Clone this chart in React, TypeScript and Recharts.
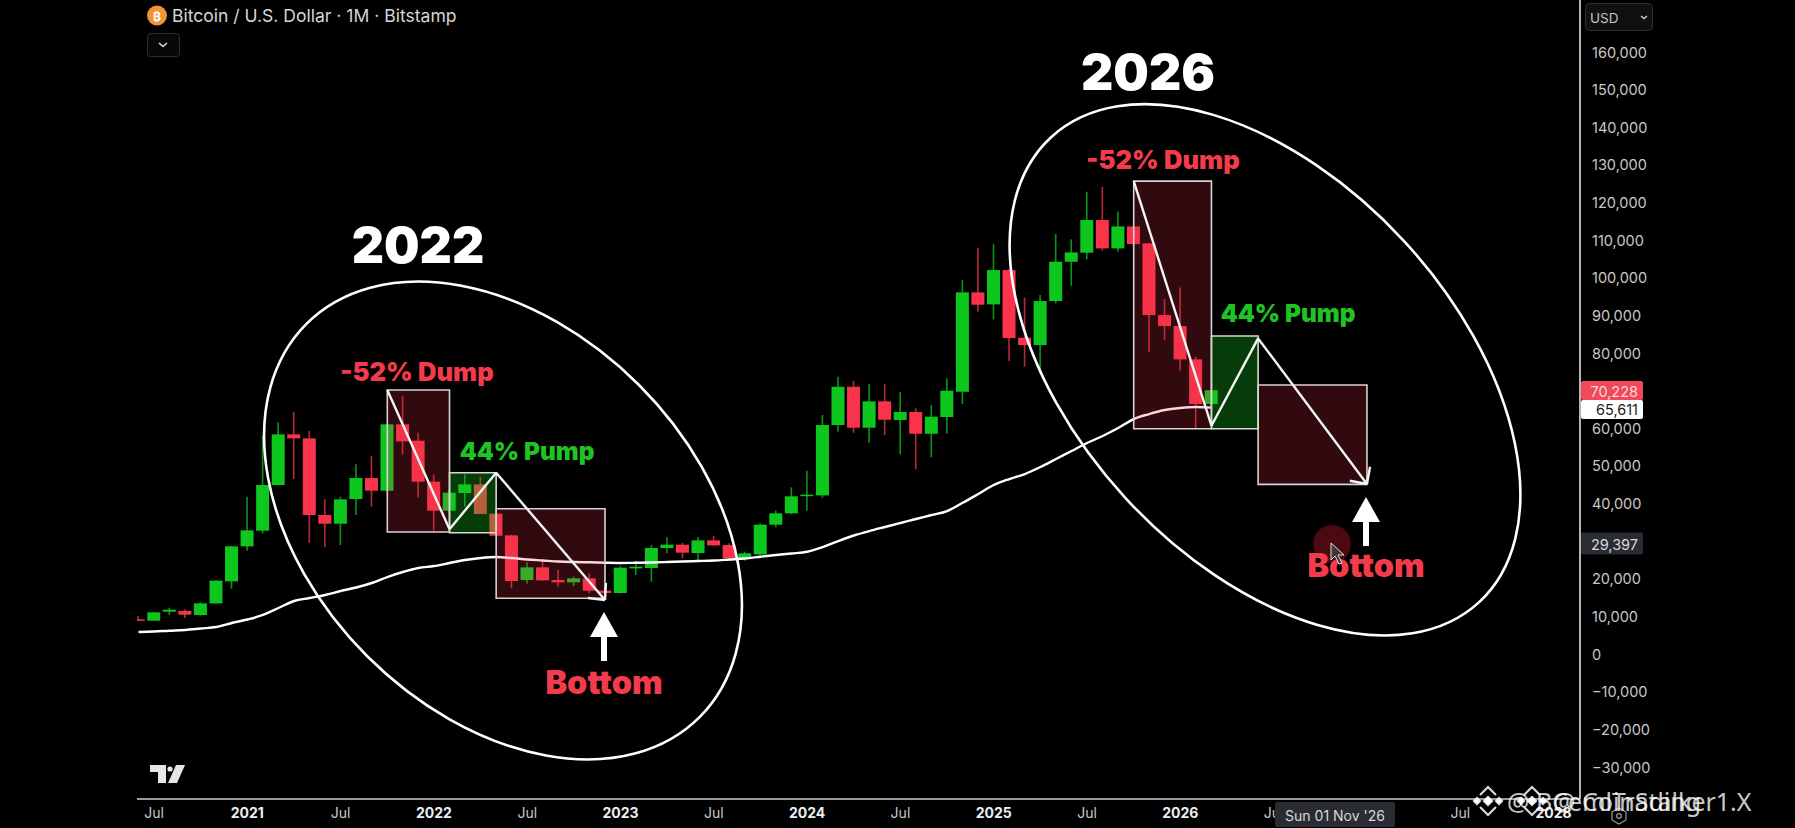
import React from "react";
import {
  ComposedChart,
  Bar,
  Line,
  XAxis,
  YAxis,
  ReferenceArea,
  ReferenceLine,
} from "recharts";

// monthly candles, index 0 = Jun 2020
const opens = [
  9340, 8990, 11380, 11560, 10490, 13590, 19440, 28740, 32900, 45040, 58500, 57440, 37070, 34760, 41320, 46900,
  43530, 61160, 56820, 45920, 38220, 42910, 45210, 37420, 31660, 19790, 23160, 19790, 19180, 20240, 16960, 16340,
  22890, 22980, 28300, 29180, 26970, 30330, 29090, 25550, 26610, 34500, 37510, 42200, 42290, 60980, 71160, 60270,
  67270, 62310, 64430, 58670, 63100, 69830, 96230, 93040, 102160, 84180, 82230, 93920, 104380, 106770, 115450,
  107920, 113760, 109250, 90200, 87280, 78420, 66560,
];
const highs = [
  10230, 11300, 12440, 12000, 13860, 19790, 28920, 41940, 58150, 61690, 64520, 59390, 41230, 41940, 50530, 52740,
  61300, 68770, 58940, 47870, 43900, 47870, 47250, 37600, 31800, 24490, 24930, 22450, 20680, 21570, 17600, 23600,
  24930, 29090, 31130, 29710, 31310, 31570, 29540, 27320, 34850, 38220, 44420, 48850, 63640, 73820, 72760, 71870,
  71870, 69750, 65410, 66290, 73380, 99500, 108100, 109070, 102500, 94900, 95520, 111730, 110310, 122980, 124300,
  117750, 114000, 109400, 94460, 97560, 79130, 70300,
];
const lows = [
  8990, 8990, 10490, 9700, 10320, 13330, 17490, 27590, 32190, 44950, 46630, 29720, 28480, 29090, 37070, 39280,
  43300, 53190, 41760, 32900, 37500, 39280, 37330, 31570, 17580, 18900, 19530, 18020, 18200, 16250, 16000, 16250,
  21120, 19350, 26880, 25550, 24930, 28830, 25290, 24930, 26440, 33790, 37330, 38220, 41670, 59210, 58940, 56280,
  58320, 53180, 49200, 52390, 58760, 66560, 91090, 89050, 77980, 76480, 74700, 93300, 98000, 105000, 107300,
  107030, 108900, 80460, 83560, 75410, 60090, 66400,
];
const closes = [
  8990, 11200, 11910, 10580, 13590, 19620, 28740, 32990, 45040, 58500, 57440, 37070, 34760, 41230, 46900, 43530,
  61160, 56640, 45920, 38220, 43000, 45210, 37330, 31570, 19530, 23160, 19710, 19180, 20240, 16960, 16340, 23070,
  23340, 28300, 29180, 27060, 30330, 29000, 25550, 26880, 34500, 37510, 42030, 42470, 60980, 71160, 60270, 67270,
  62390, 64430, 58670, 63190, 70100, 96230, 92950, 102160, 84090, 82230, 93920, 104380, 106860, 115450, 107920,
  113760, 109070, 90200, 87280, 78420, 66560, 70228,
];
const maValues = [
  5980, 6110, 6320, 6510, 6910, 7310, 8370, 9300, 10500, 12360, 14220, 15010, 15810, 16870, 17800, 19000, 20590,
  21920, 22980, 23510, 24310, 25110, 25640, 25910, 25640, 25240, 24980, 24710, 24580, 24500, 24390, 24310, 24370,
  24440, 24580, 24710, 24840, 24980, 25240, 25510, 25990, 26440, 26840, 27310, 28560, 30160, 31620, 32810, 33880,
  34940, 36000, 37070, 38130, 40310, 42650, 45040, 46630, 47960, 49820, 51950, 54070, 56200, 58060, 60180, 62570,
  63900, 64970, 65500, 65760, 65611,
];

const priceTicks = [
  -30000, -20000, -10000, 0, 10000, 20000, 30000, 40000, 50000, 60000, 70000, 80000, 90000, 100000, 110000, 120000,
  130000, 140000, 150000, 160000,
];
const timeTicks = [1, 7, 13, 19, 25, 31, 37, 43, 49, 55, 61, 67, 73, 79, 85, 91];
const timeLabels = ["Jul", "2021", "Jul", "2022", "Jul", "2023", "Jul", "2024", "Jul", "2025", "Jul", "2026", "Jul", "2027", "Jul", "2028"];

// drawn boxes on the chart: month from/to, price top/bottom
const dumpBoxes = [
  [16, 20, 70280, 32550],
  [23, 30, 38740, 14930],
  [64, 69, 125800, 60000],
  [72, 79, 71600, 45220],
];
const pumpBoxes = [
  [20, 23, 48300, 32360],
  [69, 72, 84620, 60000],
];
const zigzagLeft = [[16, 70280], [20, 33300], [23, 48300], [30, 14500]];
const zigzagRight = [[64, 125800], [69, 60800], [72, 84000], [79, 45300]];
const arrowHeads = [
  [[28.9, 15000], [30, 14500]],
  [[30.06, 19000], [30, 14500]],
  [[77.9, 46180], [79, 45300]],
  [[79.2, 49900], [79, 45300]],
];

const GREEN = "#0dc71f";
const RED = "#f9344a";

const candles = opens.map((open, i) => ({
  i,
  open,
  high: highs[i],
  low: lows[i],
  close: closes[i],
  ma: maValues[i],
  range: [lows[i], highs[i]],
}));

function Candle(props: any) {
  const { x, y, width, height, payload } = props;
  const { open, close, high, low } = payload;
  const perUnit = height / (high - low);
  const top = y + (high - Math.max(open, close)) * perUnit;
  const bodyH = Math.max(Math.abs(open - close) * perUnit, 1.5);
  const color = close >= open ? GREEN : RED;
  const mid = x + width / 2;
  return (
    <g>
      <line x1={mid} x2={mid} y1={y} y2={y + height} stroke={color} strokeWidth={1.6} strokeOpacity={0.75} />
      <rect x={x} y={top} width={width} height={bodyH} fill={color} />
    </g>
  );
}

const axisFont = "Inter, sans-serif";

function TimeTick(props: any) {
  const { x, y, payload } = props;
  const label = timeLabels[timeTicks.indexOf(payload.value)];
  const isYear = label !== "Jul";
  return (
    <text x={x} y={y} textAnchor="middle" dominantBaseline="central" fontFamily={axisFont} fontSize={14} fontWeight={isYear ? 700 : 400} fill={isYear ? "#eeeeee" : "#c9c9c9"}>
      {label}
    </text>
  );
}

function segments(points: number[][]) {
  return points.slice(1).map((p, n) => [points[n], p]);
}

function Callout({ x, y, text, color, size = 25.6 }: { x: number; y: number; text: string; color: string; size?: number }) {
  return (
    <text x={x} y={y} textAnchor="middle" dominantBaseline="central" fontFamily={axisFont} fontWeight={900} fontSize={size} fill={color}>
      {text}
    </text>
  );
}

function UpArrow({ x, tip }: { x: number; tip: number }) {
  const d = `M${x} ${tip}L${x + 14} ${tip + 25}H${x + 3}V${tip + 49}H${x - 3}V${tip + 25}H${x - 14}Z`;
  return <path d={d} fill="#ffffff" />;
}

function BinanceMark({ x, y }: { x: number; y: number }) {
  return (
    <g transform={`translate(${x} ${y})`} fill="none" stroke="#fff" strokeOpacity={0.85} strokeWidth={2.2}>
      <path d="M-8 -6L0 -14L8 -6" />
      <path d="M-8 6L0 14L8 6" />
      <path d="M-4 0L0 -4L4 0L0 4Z" fill="#fff" />
      <path d="M-14 0L-11 -3L-8 0L-11 3Z" fill="#fff" />
      <path d="M14 0L11 -3L8 0L11 3Z" fill="#fff" />
    </g>
  );
}

function Overlay() {
  return (
    <svg width={1795} height={828} style={{ position: "absolute", left: 0, top: 0, pointerEvents: "none" }}>
      {/* header */}
      <circle cx={157} cy={15.5} r={10} fill="#f0953a" />
      <text x={157} y={16} textAnchor="middle" dominantBaseline="central" fontFamily={axisFont} fontSize={12} fontWeight={700} fill="#fff">₿</text>
      <text x={172} y={15.5} dominantBaseline="central" fontFamily={axisFont} fontSize={17.55} fill="#d6d6d6">
        Bitcoin / U.S. Dollar · 1M · Bitstamp
      </text>
      <rect x={147.5} y={33.5} width={32} height={23} rx={3} fill="#080808" stroke="#2e2e2e" />
      <path d="M159 43l4 3.5 4-3.5" fill="none" stroke="#ddd" strokeWidth={1.6} />

      {/* currency box */}
      <rect x={1585.5} y={3.5} width={67} height={27} rx={4} fill="#101010" stroke="#2e2e2e" />
      <text x={1590} y={17.5} dominantBaseline="central" fontFamily={axisFont} fontSize={13.5} fill="#c4c4c4">USD</text>
      <path d="M1641 16l3 2.5 3-2.5" fill="none" stroke="#ccc" strokeWidth={1.4} />

      {/* hand drawn circles */}
      <ellipse cx={503} cy={520.5} rx={278} ry={192} transform="rotate(45 503 520.5)" fill="none" stroke="#fff" strokeWidth={2.6} />
      <ellipse cx={1265} cy={369.8} rx={316} ry={189.5} transform="rotate(47.4 1265 369.8)" fill="none" stroke="#fff" strokeWidth={2.6} />

      <Callout x={418} y={245} text="2022" color="#ffffff" size={50} />
      <Callout x={1148} y={72} text="2026" color="#ffffff" size={50} />
      <Callout x={417} y={371} text="-52% Dump" color="#f23b4b" />
      <Callout x={1163} y={159} text="-52% Dump" color="#f23b4b" />
      <Callout x={527} y={451} text="44% Pump" color="#1fc323" size={24.3} />
      <Callout x={1288} y={312.5} text="44% Pump" color="#1fc323" size={24.3} />

      <circle cx={1332} cy={544} r={19} fill="#4a0a10" />
      <UpArrow x={604} tip={612} />
      <UpArrow x={1366} tip={497} />
      <Callout x={604} y={682} text="Bottom" color="#f23b4b" size={32.5} />
      <Callout x={1366} y={565} text="Bottom" color="#f23b4b" size={32.5} />
      <path d="M1331 543l0 17 4-4 4 8 3-1-4-8 6 0Z" fill="#3a3a3a" stroke="#ddd" strokeWidth={1} />

      {/* price tags */}
      <rect x={1581} y={381} width={62} height={19} rx={2} fill="#f2495a" />
      <text x={1638} y={391} textAnchor="end" dominantBaseline="central" fontFamily={axisFont} fontSize={14.5} fill="#f6d8da">70,228</text>
      <rect x={1581} y={400} width={62} height={19} rx={2} fill="#ffffff" />
      <text x={1638} y={409.5} textAnchor="end" dominantBaseline="central" fontFamily={axisFont} fontSize={14.5} fill="#1c1c1c">65,611</text>
      <rect x={1581} y={532.5} width={62} height={22} rx={2} fill="#2a2c34" />
      <text x={1638} y={544} textAnchor="end" dominantBaseline="central" fontFamily={axisFont} fontSize={14.5} fill="#d8d8d8">29,397</text>

      {/* tradingview logo */}
      <path d="M150 765h16v18h-8v-11h-8Z" fill="#e6e6e6" />
      <circle cx={170} cy={769} r={2.6} fill="#e6e6e6" />
      <path d="M176 765h9l-8 18h-9Z" fill="#e6e6e6" />

      {/* date label under the cursor */}
      <rect x={1275} y={802} width={120} height={25} rx={2} fill="#2a2c34" />
      <text x={1335} y={815} textAnchor="middle" dominantBaseline="central" fontFamily={axisFont} fontSize={14} fill="#d8d8d8">Sun 01 Nov '26</text>

      {/* settings */}
      <path d="M1619 808l7 4v8l-7 4-7-4v-8Z" fill="none" stroke="#999" strokeWidth={1.2} />
      <circle cx={1619} cy={816} r={2.4} fill="none" stroke="#999" strokeWidth={1.2} />

      {/* watermark */}
      <BinanceMark x={1488} y={801} />
      <BinanceMark x={1532} y={801} />
      <g fontFamily="'Noto Sans', sans-serif" fontSize={25} fill="#fff" fillOpacity={0.8}>
        <text x={1507} y={801} dominantBaseline="central">@ BCemlTrading</text>
        <text x={1553} y={801} dominantBaseline="central">@ CoinStalker1.X</text>
      </g>
    </svg>
  );
}

export default function App() {
  return (
    <div style={{ position: "relative", width: 1795, height: 828, background: "#000", overflow: "hidden" }}>
      <style>{"html,body{margin:0;padding:0;background:#000;overflow:hidden}"}</style>
      <ComposedChart width={1795} height={828} data={candles} margin={{ top: 0, right: 0, bottom: 0, left: 137 }}>
        <XAxis
          dataKey="i"
          type="number"
          domain={[-0.0965, 92.7]}
          allowDataOverflow
          ticks={timeTicks}
          interval={0}
          height={29}
          tick={<TimeTick />}
          tickLine={false}
          tickMargin={7}
          axisLine={{ stroke: "#cfcfcf", strokeWidth: 1.5 }}
        />
        <YAxis
          orientation="right"
          width={215}
          domain={[-38400, 173930]}
          allowDataOverflow
          ticks={priceTicks}
          interval={0}
          tickLine={false}
          tickMargin={6}
          tickFormatter={(v: number) => (v < 0 ? "−" : "") + Math.abs(v).toLocaleString("en-US")}
          tick={{ fill: "#c9c9c9", fontSize: 14.5, fontFamily: axisFont }}
          axisLine={{ stroke: "#f0f0f0", strokeWidth: 1.5 }}
        />
        <Bar dataKey="range" barSize={13} shape={<Candle />} isAnimationActive={false} />
        <Line dataKey="ma" type="monotone" dot={false} stroke="#ffffff" strokeWidth={2.4} isAnimationActive={false} />
        {dumpBoxes.map(([x1, x2, y1, y2]) => (
          <ReferenceArea key={x1} x1={x1} x2={x2} y1={y1} y2={y2} fill="#f0324a" fillOpacity={0.2} stroke="#d9d2d2" strokeWidth={1.6} zIndex={1000} />
        ))}
        {pumpBoxes.map(([x1, x2, y1, y2]) => (
          <ReferenceArea key={x1} x1={x1} x2={x2} y1={y1} y2={y2} fill="#14c81e" fillOpacity={0.3} stroke="#d9d9d2" strokeWidth={1.6} zIndex={1000} />
        ))}
        {[...segments(zigzagLeft), ...segments(zigzagRight), ...arrowHeads].map((seg, n) => (
          <ReferenceLine
            key={n}
            segment={[
              { x: seg[0][0], y: seg[0][1] },
              { x: seg[1][0], y: seg[1][1] },
            ]}
            stroke="#f4f4f4"
            strokeWidth={2.4}
            zIndex={1100}
          />
        ))}
      </ComposedChart>
      <Overlay />
    </div>
  );
}
